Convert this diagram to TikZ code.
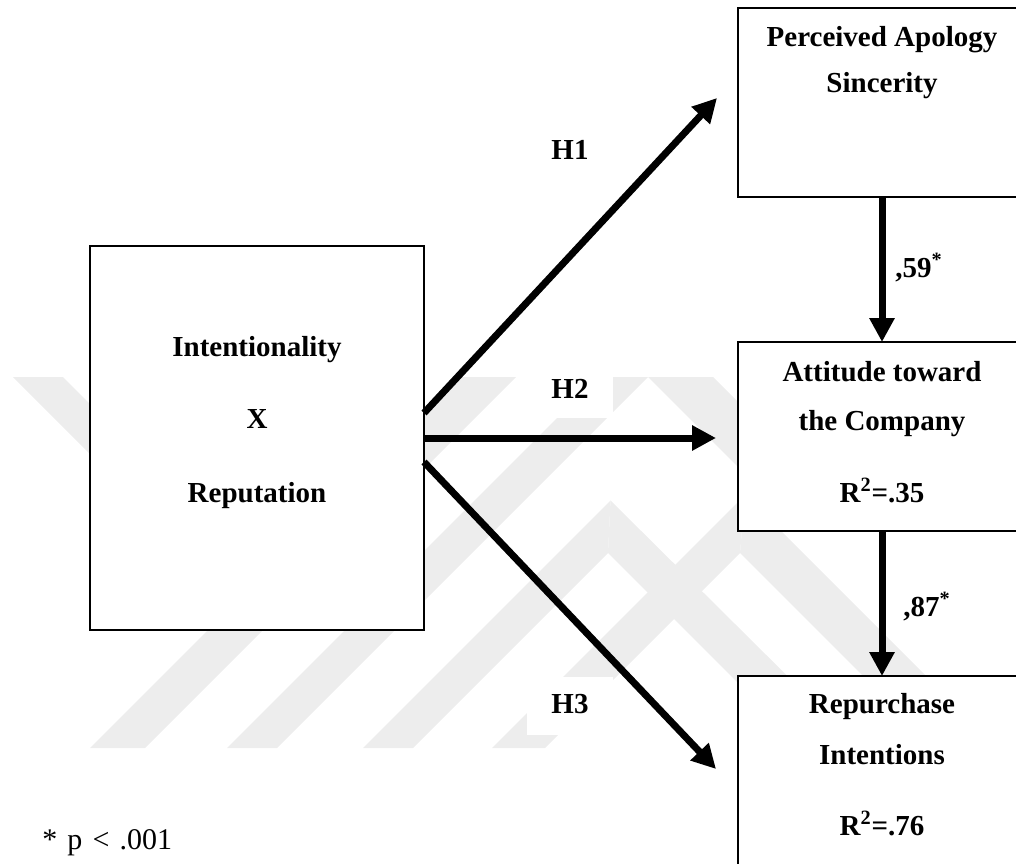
\documentclass[tikz,border=0pt]{standalone}
\usepackage{fontspec}
\setmainfont{Liberation Serif}
\usetikzlibrary{arrows.meta,calc}
\definecolor{wmgray}{RGB}{237,237,237}
\begin{document}
\begin{tikzpicture}[x=0.75pt,y=-0.75pt,
  box/.style={draw, line width=1.5pt, fill=white, rectangle, inner sep=0pt, outer sep=0pt},
  txt/.style={font=\fontsize{21.75pt}{26pt}\selectfont\bfseries, anchor=base, inner sep=0pt},
  note/.style={font=\fontsize{22.5pt}{26pt}\selectfont, anchor=base west, inner sep=0pt},
  coef/.style={txt, anchor=base west},
  patch/.style={fill=white, draw=none, rectangle, inner sep=0pt},
  arr/.style={line width=5.25pt, -{Triangle[length=18pt,width=18pt]}},
  wm/.style={fill=wmgray, draw=none}]
\useasboundingbox (0,0) rectangle (1016,863);
\clip (0,0) rectangle (1016,863);

% faint background emblem: diagonal bands
\fill[wm] (90,748) -- (145,748) -- (516,377) -- (461,377) -- cycle;
\fill[wm] (227,748) -- (277,748) -- (648,377) -- (598,377) -- cycle;
\fill[wm] (363,748) -- (413,748) -- (608,553) -- (610.5,500.5) -- cycle;
\fill[wm] (610.5,500.5) -- (860,748) -- (803,748) -- (608,553) -- cycle;
\fill[wm] (492,748) -- (545,748) -- (740,553) -- (745,495) -- cycle;
\fill[wm] (745,495) -- (998,748) -- (935,748) -- (740,553) -- cycle;
\fill[wm] (13,377) -- (63,377) -- (286,600) -- (236,600) -- cycle;
\fill[wm] (648,377) -- (713,377) -- (816,480) -- (751,480) -- cycle;

% white patches behind the hypothesis labels
\node[patch, minimum width=69.75pt, minimum height=30.75pt] (h2bg) at (566,397.5) {};
\node[patch, minimum width=65pt, minimum height=43.5pt] (h3bg) at (570,706) {};

% boxes
\node[box, minimum width=250.5pt, minimum height=288pt] (intent) at (257,438) {};
\node[box, minimum width=216pt, minimum height=141.75pt] (perc) at (882,102.5) {};
\node[box, minimum width=216pt, minimum height=141.75pt] (att) at (882,436.5) {};
\node[box, minimum width=216pt, minimum height=168pt] (rep) at (882,788) {};

% arrow end points
\coordinate (h1s) at ($(intent.east)+(0,-25)$);
\coordinate (h3s) at ($(intent.east)+(0,24)$);
\coordinate (h1t) at (717,98);
\coordinate (h2t) at (716,438);
\coordinate (h3t) at (716,769);

% connectors
\draw[arr] (h1s) -- (h1t);
\draw[arr] (intent.east) -- (h2t);
\draw[arr] (h3s) -- (h3t);
\draw[arr] (perc.south) -- (att.north);
\draw[arr] (att.south) -- (rep.north);

% box texts
\node[txt] (t1) at (257,356) {Intentionality};
\node[txt] (t2) at (257,428) {X};
\node[txt] (t3) at (257,502) {Reputation};
\node[txt] (p1) at (882,47) {Perceived Apology};
\node[txt] (p2) at (882,93) {Sincerity};
\node[txt] (a1) at (882,381) {Attitude toward};
\node[txt] (a2) at (882,430) {the Company};
\node[txt] (a3) at (882,502) {R\textsuperscript{2}=.35};
\node[txt] (r1) at (882,713) {Repurchase};
\node[txt] (r2) at (882,764) {Intentions};
\node[txt] (r3) at (882,835) {R\textsuperscript{2}=.76};

% path labels
\node[txt] (h1) at (570,160) {H1};
\node[txt] (h2) at (570,398) {H2};
\node[txt] (h3) at (570,713) {H3};
\node[coef] (c59) at (895,277) {,59\textsuperscript{*}};
\node[coef] (c87) at (903,616) {,87\textsuperscript{*}};

% significance note
\node[note] (sig) at (42,849) {*\hspace{2pt} p\hspace{2pt} {\char"3C}\hspace{2pt} .001};
\end{tikzpicture}
\end{document}
